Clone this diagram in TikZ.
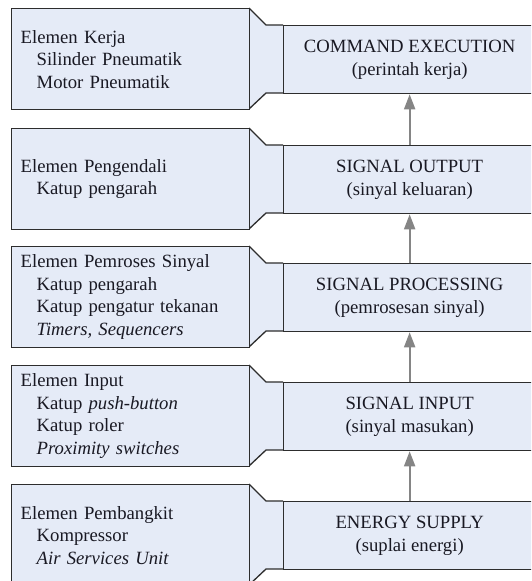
\documentclass[tikz,border=0pt]{standalone}
\usepackage{fontspec}
\setmainfont{Liberation Serif}
\usetikzlibrary{arrows.meta}
\definecolor{boxfill}{RGB}{229,235,247}
\definecolor{boxline}{RGB}{45,45,45}
\definecolor{arrowgray}{RGB}{133,133,133}
\definecolor{txt}{RGB}{25,25,35}
\tikzset{
  leftbox/.style={draw=boxline, fill=boxfill, line width=1.3pt, rectangle,
    minimum width=238pt, minimum height=101pt, text width=220pt, inner xsep=9pt,
    align=left, anchor=north west, text=txt,
    font=\fontsize{18.7}{22.5}\selectfont},
  rightbox/.style={draw=boxline, fill=boxfill, line width=1.3pt, rectangle,
    minimum width=252pt, minimum height=68pt, align=center, anchor=north west,
    text=txt, font=\fontsize{18.7}{23}\selectfont},
  funnelfill/.style={fill=boxfill},
  funnelline/.style={draw=boxline, line width=1.3pt},
  flow/.style={draw=arrowgray, line width=2pt,
    -{Triangle[width=11pt,length=15pt]}, fill=arrowgray}
}
\newcommand{\ind}{\hspace*{16pt}}
\begin{document}
\begin{tikzpicture}[x=1pt, y=-1pt]
\useasboundingbox (0,0) rectangle (531,581);
\clip (0,0) rectangle (531,581);

% funnels
\foreach \t in {8,128,246,365,484}{
  \fill[funnelfill] (249,\t) -- (266,\t+17) -- (284,\t+17) -- (284,\t+85) -- (266,\t+85) -- (249,\t+101) -- cycle;
  \draw[funnelline] (249,\t) -- (266,\t+17) -- (283,\t+17);
  \draw[funnelline] (283,\t+85) -- (266,\t+85) -- (249,\t+101);
}

% left boxes
\node[leftbox] (L1) at (11,8) {Elemen Kerja\\\ind Silinder Pneumatik\\\ind Motor Pneumatik};
\node[leftbox] (L2) at (11,128) {Elemen Pengendali\\\ind Katup pengarah};
\node[leftbox] (L3) at (11,246) {Elemen Pemroses Sinyal\\\ind Katup pengarah\\\ind Katup pengatur tekanan\\\ind \textit{Timers, Sequencers}};
\node[leftbox] (L4) at (11,365) {Elemen Input\\\ind Katup \textit{push-button}\\\ind Katup roler\\\ind \textit{Proximity switches}};
\node[leftbox] (L5) at (11,484) {Elemen Pembangkit\\\ind Kompressor\\\ind \textit{Air Services Unit}};

% right boxes
\node[rightbox] (R1) at (283,25) {COMMAND EXECUTION\\(perintah kerja)};
\node[rightbox] (R2) at (283,145) {SIGNAL OUTPUT\\(sinyal keluaran)};
\node[rightbox] (R3) at (283,263) {SIGNAL PROCESSING\\(pemrosesan sinyal)};
\node[rightbox] (R4) at (283,382) {SIGNAL INPUT\\(sinyal masukan)};
\node[rightbox] (R5) at (283,501) {ENERGY SUPPLY\\(suplai energi)};

% arrows
\draw[flow] (R5.north) -- (R4.south);
\draw[flow] (R4.north) -- (R3.south);
\draw[flow] (R3.north) -- (R2.south);
\draw[flow] (R2.north) -- (R1.south);
\end{tikzpicture}
\end{document}
